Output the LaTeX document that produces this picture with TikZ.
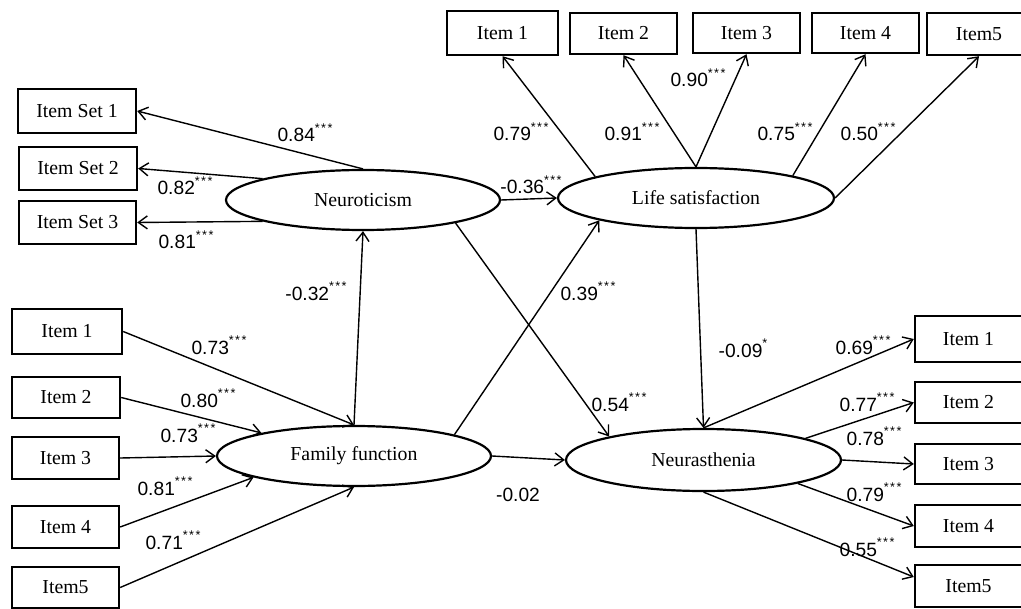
\documentclass[tikz,border=0pt]{standalone}
\usepackage{fontspec}
\setmainfont{Liberation Serif}
\newfontfamily\labfont{Liberation Sans}
\usetikzlibrary{shapes.geometric,arrows.meta,calc}
\newcommand{\sigthree}{\raisebox{0.95ex}{\fontsize{6.3}{7}\selectfont *\kern0.7pt*\kern0.7pt*}}
\newcommand{\sigone}{\raisebox{0.95ex}{\fontsize{6.3}{7}\selectfont *}}
\begin{document}
\begin{tikzpicture}[x=0.5pt,y=-0.5pt,
 box/.style={draw,line width=1.2pt,inner sep=0pt,font=\fontsize{9.9}{11}\selectfont},
 lat/.style={draw,ellipse,line width=1.1pt,inner sep=0pt,font=\fontsize{9.9}{11}\selectfont},
 conn/.style={line width=0.7pt,-{Straight Barb[length=4.5pt,width=6.5pt]}},
 lab/.style={font=\labfont\fontsize{9.6}{11}\selectfont,anchor=base,inner sep=0pt}
]
\useasboundingbox (0,0) rectangle (1021,609);
\fill[white] (0,0) rectangle (1021,609);
\clip (0,0) rectangle (1021,609);
% top boxes
\node[box,minimum width=55.5pt,minimum height=22pt] (t1) at (502.5,33) {Item 1};
\node[box,minimum width=53.5pt,minimum height=20.5pt] (t2) at (623.5,33.5) {Item 2};
\node[box,minimum width=53.5pt,minimum height=20pt] (t3) at (746.5,33) {Item 3};
\node[box,minimum width=53.5pt,minimum height=20pt] (t4) at (865.5,33) {Item 4};
\node[box,minimum width=52pt,minimum height=21pt] (t5) at (979,34) {Item5};
% item sets
\node[box,minimum width=59pt,minimum height=22pt] (s1) at (77,111) {Item Set 1};
\node[box,minimum width=59pt,minimum height=21.5pt] (s2) at (78,168.5) {Item Set 2};
\node[box,minimum width=58.5pt,minimum height=21.5pt] (s3) at (77.5,222.5) {Item Set 3};
% left lower boxes
\node[box,minimum width=55pt,minimum height=22.5pt] (l1) at (67,331.5) {Item 1};
\node[box,minimum width=54pt,minimum height=20.5pt] (l2) at (66,397.5) {Item 2};
\node[box,minimum width=53.5pt,minimum height=21pt] (l3) at (65.5,458) {Item 3};
\node[box,minimum width=53.5pt,minimum height=21pt] (l4) at (65.5,527) {Item 4};
\node[box,minimum width=53.5pt,minimum height=20.5pt] (l5) at (65.5,587.5) {Item5};
% right boxes
\node[box,minimum width=53.5pt,minimum height=23pt] (r1) at (968.5,339) {Item 1};
\node[box,minimum width=53.5pt,minimum height=20.5pt] (r2) at (968.5,402.5) {Item 2};
\node[box,minimum width=53.5pt,minimum height=20pt] (r3) at (968.5,464) {Item 3};
\node[box,minimum width=53.5pt,minimum height=21pt] (r4) at (968.5,526) {Item 4};
\node[box,minimum width=53.5pt,minimum height=21pt] (r5) at (968.5,586) {Item5};
% latent variables
\node[lat,minimum width=137pt,minimum height=30pt] (neu) at (363,200) {Neuroticism};
\node[lat,minimum width=138pt,minimum height=30pt] (life) at (696,198) {Life satisfaction};
\node[lat,minimum width=137pt,minimum height=30pt] (fam) at (354,456) {Family function};
\node[lat,minimum width=137.5pt,minimum height=31pt] (nas) at (703.5,460) {Neurasthenia};
% neuroticism loadings
\draw[conn] (neu.north) -- (s1.east);
\draw[conn] (neu.168.5) -- (s2.east);
\draw[conn] (neu.192) -- (s3.east);
% life satisfaction loadings
\draw[conn] (life.168) -- (t1.south);
\draw[conn] (life.north) -- (t2.south);
\draw[conn] (life.north) -- (t3.south);
\draw[conn] (life.13.5) -- (t4.south);
\draw[conn] (life.east) -- (t5.south);
% family function indicators
\draw[conn] (l1.east) -- (fam.north);
\draw[conn] (l2.east) -- (fam.166.8);
\draw[conn] (l3.east) -- (fam.west);
\draw[conn] (l4.east) -- (fam.192.6);
\draw[conn] (l5.east) -- (fam.south);
% neurasthenia loadings
\draw[conn] (nas.north) -- (r1.west);
\draw[conn] (nas.12.8) -- (r2.west);
\draw[conn] (nas.east) -- (r3.west);
\draw[conn] (nas.346.6) -- (r4.west);
\draw[conn] (nas.south) -- ($(r5.west)+(0,-9)$);
% structural paths
\draw[conn] (neu.east) -- (life.west);
\draw[conn] (fam.north) -- (neu.south);
\draw[conn] (fam.12.5) -- (life.193.6);
\draw[conn] (neu.346) -- (nas.166.7);
\draw[conn] (life.south) -- (nas.north);
\draw[conn] (fam.east) -- (nas.west);
% labels
\node[lab] (a1) at (305,142) {0.84\sigthree};
\node[lab] (a2) at (185,195) {0.82\sigthree};
\node[lab] (a3) at (186,249) {0.81\sigthree};
\node[lab] (a4) at (531,194) {-0.36\sigthree};
\node[lab] (b1) at (521,141) {0.79\sigthree};
\node[lab] (b2) at (632,141) {0.91\sigthree};
\node[lab] (b3) at (698,87) {0.90\sigthree};
\node[lab] (b4) at (785,141) {0.75\sigthree};
\node[lab] (b5) at (868,141) {0.50\sigthree};
\node[lab] (c1) at (316,300) {-0.32\sigthree};
\node[lab] (c2) at (588,300) {0.39\sigthree};
\node[lab] (d1) at (219,354) {0.73\sigthree};
\node[lab] (d2) at (208,407) {0.80\sigthree};
\node[lab] (d3) at (188,442) {0.73\sigthree};
\node[lab] (d4) at (165,495) {0.81\sigthree};
\node[lab] (d5) at (173,549) {0.71\sigthree};
\node[lab] (e1) at (619,411) {0.54\sigthree};
\node[lab] (e2) at (743,357) {-0.09\sigone};
\node[lab] (e3) at (518,501) {-0.02};
\node[lab] (f1) at (863,354) {0.69\sigthree};
\node[lab] (f2) at (867,411) {0.77\sigthree};
\node[lab] (f3) at (874,445) {0.78\sigthree};
\node[lab] (f4) at (874,501) {0.79\sigthree};
\node[lab] (f5) at (867,556) {0.55\sigthree};
\end{tikzpicture}
\end{document}
